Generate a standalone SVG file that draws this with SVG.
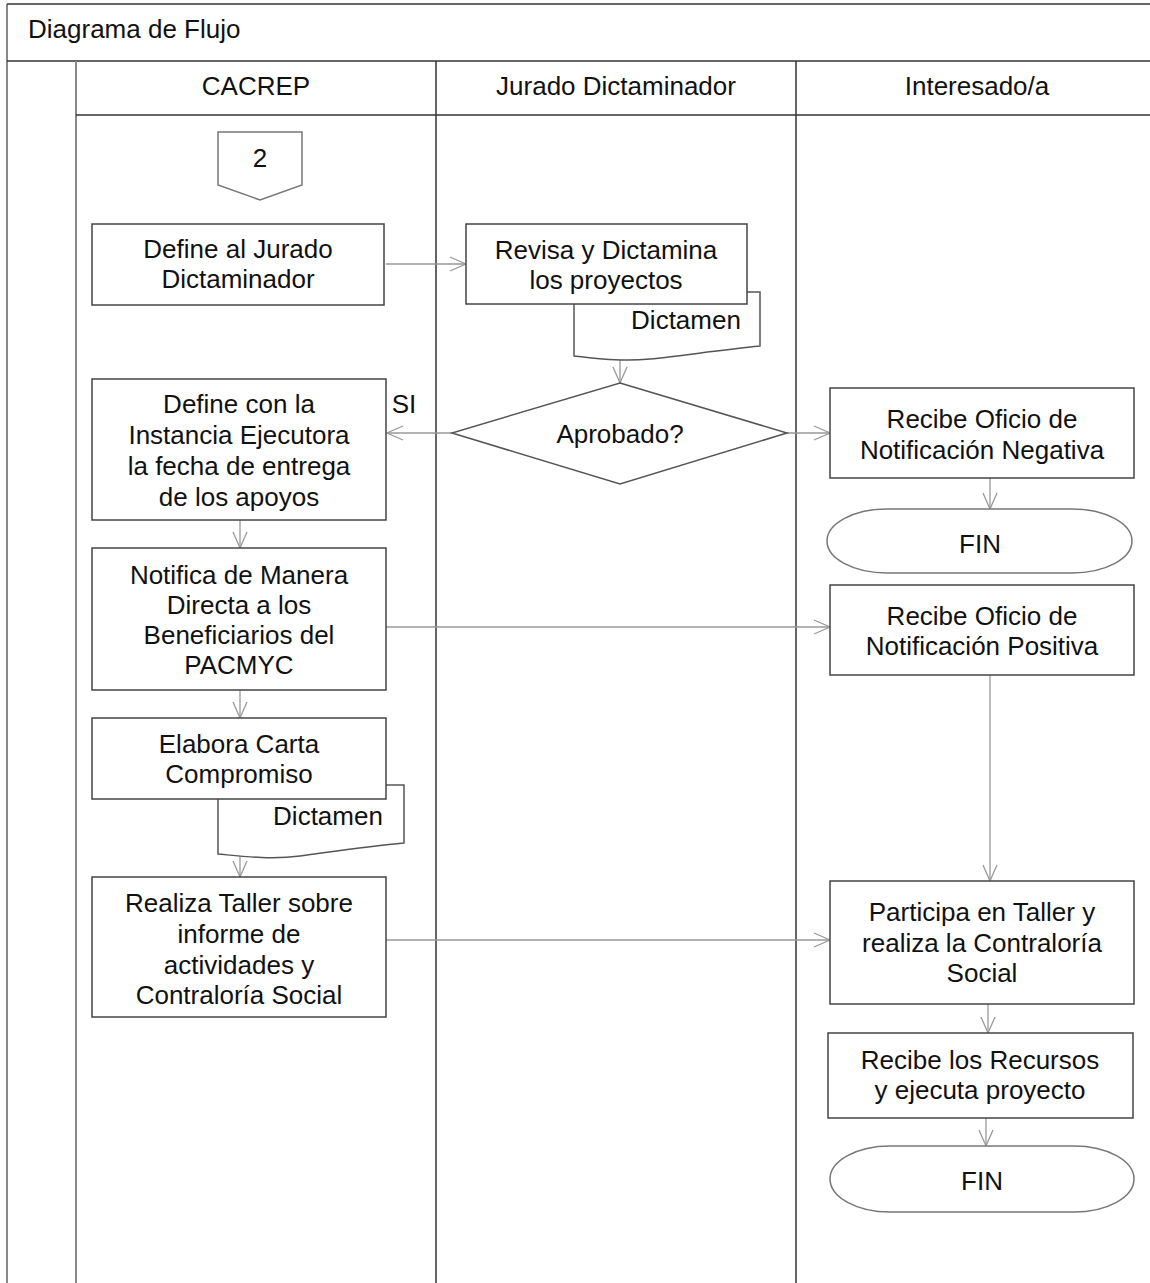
<svg xmlns="http://www.w3.org/2000/svg" width="1150" height="1283" viewBox="0 0 1150 1283">
<defs>
<style>
text{font-family:"Liberation Sans",Arial,sans-serif;fill:#111;text-anchor:middle}
.box{fill:#fff;stroke:#444;stroke-width:1.5}
.lane{stroke:#333;stroke-width:1.5;fill:none}
.lane2{stroke:#888;stroke-width:2;fill:none}
.conn{stroke:#999;stroke-width:1.3;fill:none;marker-end:url(#arr)}
.t{font-size:26px}
</style>
<marker id="arr" viewBox="0 0 20 20" refX="18" refY="10" markerWidth="20" markerHeight="20" markerUnits="userSpaceOnUse" orient="auto">
<path d="M2,3 L18,10 L2,17" fill="none" stroke="#999" stroke-width="1.3"/>
</marker>
</defs>
<rect width="1150" height="1283" fill="#fff"/>
<g id="frame">
<line class="lane2" x1="7" y1="4" x2="7" y2="1283"/>
<line class="lane" x1="7" y1="4" x2="1150" y2="4"/>
<line class="lane" x1="7" y1="61" x2="1150" y2="61"/>
<line class="lane2" x1="76" y1="61" x2="76" y2="1283"/>
<line class="lane" x1="76" y1="115" x2="1150" y2="115"/>
<line class="lane" x1="436" y1="61" x2="436" y2="1283"/>
<line class="lane" x1="796" y1="61" x2="796" y2="1283"/>
<text x="28" y="38" style="text-anchor:start;font-size:26px">Diagrama de Flujo</text>
<text x="256" y="95" class="t">CACREP</text>
<text x="616" y="95" class="t">Jurado Dictaminador</text>
<text x="977" y="95" class="t">Interesado/a</text>
</g>
<g id="connectors">
<line class="conn" x1="386" y1="264" x2="466" y2="264"/>
<line class="conn" x1="620" y1="304" x2="620" y2="383"/>
<line class="conn" x1="452" y1="433" x2="387" y2="433"/>
<line class="conn" x1="787" y1="433" x2="830" y2="433"/>
<line class="conn" x1="990" y1="478" x2="990" y2="509"/>
<line class="conn" x1="240" y1="520" x2="240" y2="548"/>
<line class="conn" x1="386" y1="627" x2="830" y2="627"/>
<line class="conn" x1="240" y1="690" x2="240" y2="718"/>
<line class="conn" x1="240" y1="799" x2="240" y2="877"/>
<line class="conn" x1="386" y1="940" x2="830" y2="940"/>
<line class="conn" x1="990" y1="675" x2="990" y2="881"/>
<line class="conn" x1="988" y1="1004" x2="988" y2="1033"/>
<line class="conn" x1="986" y1="1118" x2="986" y2="1146"/>
<text x="404" y="413" class="t">SI</text>
</g>
<g id="n-conector2">
<path class="box" d="M218,132 H302 V185 L260,200 L218,185 Z" style="stroke:#777"/>
<text x="260" y="167" class="t">2</text>
</g>
<g id="n-define-jurado">
<rect class="box" x="92" y="224" width="292" height="81"/>
<text x="238" y="258" class="t">Define al Jurado</text>
<text x="238" y="288" class="t">Dictaminador</text>
</g>
<g id="n-doc-dictamen1">
<path class="box" d="M574,292 H760 V346 C720,350 680,356 650,359 C620,362 595,358 574,356 Z" style="stroke:#555"/>
<text x="686" y="329" class="t">Dictamen</text>
</g>
<g id="n-revisa">
<rect class="box" x="466" y="224" width="281" height="80"/>
<text x="606" y="259" class="t">Revisa y Dictamina</text>
<text x="606" y="289" class="t">los proyectos</text>
</g>
<g id="n-aprobado">
<path class="box" d="M620,383 L787,433 L620,484 L452,433 Z" style="stroke:#555"/>
<text x="620" y="443" class="t">Aprobado?</text>
</g>
<g id="n-define-instancia">
<rect class="box" x="92" y="379" width="294" height="141"/>
<text x="239" y="413" class="t">Define con la</text>
<text x="239" y="444" class="t">Instancia Ejecutora</text>
<text x="239" y="475" class="t">la fecha de entrega</text>
<text x="239" y="506" class="t">de los apoyos</text>
</g>
<g id="n-negativa">
<rect class="box" x="830" y="388" width="304" height="90"/>
<text x="982" y="428" class="t">Recibe Oficio de</text>
<text x="982" y="459" class="t">Notificación Negativa</text>
</g>
<g id="n-fin1">
<rect class="box" x="827" y="509" width="305" height="64" rx="60" ry="32" style="stroke:#777"/>
<text x="980" y="553" class="t">FIN</text>
</g>
<g id="n-notifica">
<rect class="box" x="92" y="548" width="294" height="142"/>
<text x="239" y="584" class="t">Notifica de Manera</text>
<text x="239" y="614" class="t">Directa a los</text>
<text x="239" y="644" class="t">Beneficiarios del</text>
<text x="239" y="674" class="t">PACMYC</text>
</g>
<g id="n-positiva">
<rect class="box" x="830" y="585" width="304" height="90"/>
<text x="982" y="625" class="t">Recibe Oficio de</text>
<text x="982" y="655" class="t">Notificación Positiva</text>
</g>
<g id="n-doc-dictamen2">
<path class="box" d="M218,785 H404 V843 C370,846 330,852 300,856 C270,860 240,856 218,854 Z" style="stroke:#555"/>
<text x="328" y="825" class="t">Dictamen</text>
</g>
<g id="n-elabora">
<rect class="box" x="92" y="718" width="294" height="81"/>
<text x="239" y="753" class="t">Elabora Carta</text>
<text x="239" y="783" class="t">Compromiso</text>
</g>
<g id="n-taller">
<rect class="box" x="92" y="877" width="294" height="140"/>
<text x="239" y="912" class="t">Realiza Taller sobre</text>
<text x="239" y="943" class="t">informe de</text>
<text x="239" y="974" class="t">actividades y</text>
<text x="239" y="1004" class="t">Contraloría Social</text>
</g>
<g id="n-participa">
<rect class="box" x="830" y="881" width="304" height="123"/>
<text x="982" y="921" class="t">Participa en Taller y</text>
<text x="982" y="952" class="t">realiza la Contraloría</text>
<text x="982" y="982" class="t">Social</text>
</g>
<g id="n-recursos">
<rect class="box" x="828" y="1033" width="305" height="85"/>
<text x="980" y="1069" class="t">Recibe los Recursos</text>
<text x="980" y="1099" class="t">y ejecuta proyecto</text>
</g>
<g id="n-fin2">
<rect class="box" x="830" y="1146" width="304" height="66" rx="60" ry="33" style="stroke:#777"/>
<text x="982" y="1190" class="t">FIN</text>
</g>
</svg>
